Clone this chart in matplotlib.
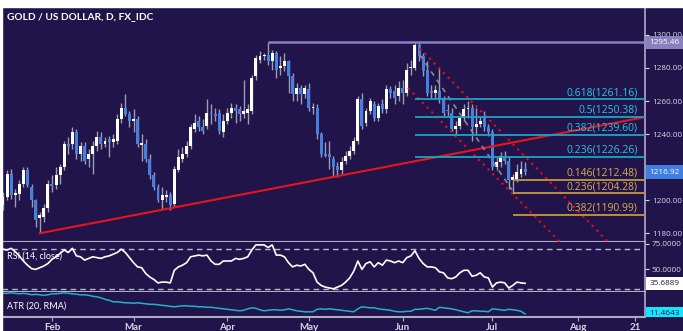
import numpy as np
import pandas as pd
import matplotlib
matplotlib.use('Agg')
import matplotlib.pyplot as plt
from matplotlib.patches import Rectangle
from matplotlib.transforms import Bbox, TransformedBbox, blended_transform_factory

# XAU/USD daily bars, 16 Jan - 13 Jul 2017
opens = [1197, 1202, 1216, 1203, 1204, 1210, 1218, 1208, 1200, 1189,
         1190, 1195, 1210, 1209, 1215, 1220, 1234, 1234, 1241, 1228,
         1233, 1225, 1228, 1233, 1238, 1234, 1237, 1235, 1236, 1249,
         1256, 1252, 1248, 1249, 1233.5, 1234, 1225, 1215, 1208, 1200,
         1202, 1203, 1198, 1218, 1225, 1228, 1233, 1243, 1248, 1244,
         1245, 1253, 1252, 1253, 1241, 1248, 1253, 1256, 1255, 1252,
         1253, 1254, 1275, 1285, 1287, 1288, 1284, 1289, 1280, 1281,
         1284, 1275, 1264, 1268, 1264, 1267, 1256, 1256, 1240, 1228,
         1228, 1225, 1221, 1218, 1224, 1227, 1230, 1236, 1261, 1247,
         1254, 1258, 1250, 1258, 1255, 1267, 1266, 1263, 1268, 1265,
         1280, 1280, 1294, 1287, 1279, 1266, 1265, 1266, 1261, 1254.5,
         1253, 1243, 1245, 1250, 1255, 1256, 1244, 1246, 1250, 1244,
         1241, 1220, 1223, 1227, 1224, 1212, 1213, 1216, 1219]
highs = [1205, 1218, 1219, 1207, 1212, 1220, 1220, 1210, 1201, 1193,
         1198, 1212, 1215, 1220, 1222, 1236, 1238, 1244, 1243, 1235,
         1235, 1231, 1236, 1242, 1241, 1238, 1239, 1240, 1252, 1259,
         1264, 1254, 1255, 1251, 1240, 1237, 1228, 1217, 1210, 1208,
         1206, 1205, 1221, 1231, 1232, 1236, 1246, 1252, 1251, 1249,
         1261, 1258, 1256, 1255, 1252, 1256, 1259, 1258, 1257, 1273,
         1258, 1276, 1288, 1290, 1289, 1295.46, 1291, 1290, 1287, 1289,
         1285, 1277, 1271, 1270, 1270, 1271, 1259, 1258, 1241, 1235,
         1236, 1227, 1223, 1226, 1230, 1233, 1238, 1263, 1265, 1256,
         1262, 1260, 1259, 1261, 1270, 1269, 1270, 1272, 1273, 1283,
         1285, 1296, 1296, 1289, 1284, 1270, 1270, 1280, 1263, 1258,
         1256, 1248, 1250, 1258, 1260, 1258, 1256, 1251, 1254, 1246,
         1243, 1226, 1229, 1230, 1226, 1216, 1222, 1224, 1223]
lows = [1194, 1200, 1201, 1196, 1200, 1208, 1208, 1196, 1184, 1180,
        1187, 1193, 1205, 1207, 1210, 1218, 1228, 1231, 1225, 1224,
        1222, 1220, 1216, 1230, 1231, 1232, 1226, 1232, 1234, 1247,
        1251, 1244, 1241, 1232, 1224, 1223, 1213, 1206, 1199, 1194,
        1199, 1194, 1196, 1217, 1223, 1226, 1231, 1241, 1242, 1240,
        1243, 1246, 1248, 1240, 1238, 1246, 1250, 1247, 1248, 1250,
        1246, 1252, 1273, 1283, 1285, 1282, 1279, 1274, 1276, 1278,
        1265, 1260, 1260, 1258, 1262, 1254, 1252, 1237, 1226, 1226,
        1219, 1214, 1214, 1216, 1222, 1225, 1228, 1234, 1243, 1245,
        1252, 1248, 1248, 1253, 1253, 1262, 1258, 1260, 1258, 1263,
        1276, 1279, 1284, 1275, 1263, 1262, 1262, 1259, 1251, 1251,
        1242, 1240, 1243, 1248, 1250, 1236, 1240, 1244, 1242, 1239,
        1218, 1218, 1220, 1222, 1207, 1204, 1211, 1214, 1215]
closes = [1202, 1216, 1203, 1204.5, 1210, 1218, 1209, 1200, 1188, 1191,
          1195, 1210, 1208.5, 1215, 1220, 1234, 1233, 1241, 1228, 1233,
          1224, 1228, 1233, 1238, 1234, 1236, 1235, 1237, 1249, 1256,
          1252, 1248, 1249, 1234, 1234.5, 1225, 1215, 1208, 1200, 1203,
          1203, 1197, 1219, 1226, 1228, 1233, 1244, 1247, 1244, 1242,
          1253, 1252, 1251, 1242, 1248, 1253, 1256, 1254, 1252, 1254,
          1255, 1274, 1286, 1287, 1287.5, 1284, 1289, 1279, 1281, 1284,
          1275, 1264, 1268, 1264, 1268, 1256, 1256.5, 1240, 1228, 1227,
          1226, 1220, 1218, 1223, 1227, 1230, 1236, 1261, 1245, 1254,
          1260, 1250, 1257, 1255, 1267, 1265, 1262, 1268, 1265, 1279,
          1280.5, 1294, 1287, 1278, 1265, 1265, 1266.5, 1261, 1253, 1254,
          1243, 1245, 1250, 1255, 1256, 1244, 1246, 1248, 1244, 1241,
          1220, 1223, 1227, 1224, 1212, 1214, 1217, 1219, 1216.92]

rsi = [69.8, 69.0, 70.7, 67.3, 63.1, 58.0, 53.8, 50.4, 49.6, 51.3,
       53.0, 55.5, 59.7, 62.2, 65.6, 69.0, 66.5, 70.7, 63.1, 62.2,
       58.9, 60.6, 62.2, 61.4, 60.6, 62.2, 63.1, 64.8, 66.5, 69.8,
       66.5, 61.4, 56.3, 52.1, 51.3, 45.4, 42.0, 39.5, 36.1, 36.9,
       36.9, 36.1, 48.7, 52.1, 53.8, 56.3, 62.2, 63.1, 63.9, 63.1,
       63.9, 58.0, 54.7, 54.7, 58.0, 58.0, 58.0, 60.6, 59.7, 60.6,
       62.2, 69.0, 74.1, 74.1, 74.1, 71.5, 74.1, 63.9, 63.9, 62.2,
       56.3, 52.1, 53.8, 53.0, 54.7, 49.6, 46.2, 36.9, 33.6, 31.9,
       31.0, 30.2, 31.9, 33.6, 36.9, 41.1, 47.9, 58.0, 49.6, 55.5,
       57.2, 52.1, 56.3, 53.8, 58.9, 58.0, 56.3, 58.0, 56.3, 61.4,
       63.1, 68.2, 60.6, 55.5, 52.1, 52.1, 51.3, 47.1, 46.2, 41.1,
       40.3, 42.0, 46.2, 48.7, 48.7, 42.8, 43.7, 46.2, 42.0, 41.1,
       31.9, 36.1, 36.9, 36.1, 31.0, 33.6, 36.9, 36.1, 35.6889]

atr = [15.6, 15.6, 15.7, 15.6, 15.5, 15.6, 15.5, 15.3, 15.4, 15.3,
       15.2, 15.3, 15.5, 15.5, 15.6, 15.7, 15.6, 15.5, 15.4, 15.3,
       15.3, 15.2, 15.0, 14.9, 14.7, 14.4, 14.2, 13.9, 13.9, 13.8,
       13.7, 13.7, 13.6, 13.7, 13.6, 13.5, 13.4, 13.4, 13.3, 13.2,
       13.1, 13.0, 12.9, 13.0, 13.1, 13.1, 13.0, 13.0, 12.9, 12.9,
       12.8, 12.8, 12.7, 12.6, 12.5, 12.4, 12.3, 12.2, 12.1, 12.2,
       12.5, 12.7, 12.6, 12.3, 12.1, 12.2, 12.3, 12.3, 12.2, 12.3,
       12.5, 12.3, 12.1, 12.0, 11.9, 11.9, 11.9, 12.4, 12.5, 12.4,
       12.5, 12.4, 12.3, 12.2, 12.1, 12.0, 11.9, 12.5, 12.9, 12.8,
       12.7, 12.7, 12.5, 12.4, 12.3, 12.2, 12.0, 11.9, 11.9, 12.0,
       12.0, 12.4, 12.4, 12.5, 12.6, 12.4, 12.2, 12.8, 12.7, 12.6,
       12.5, 12.3, 12.1, 11.9, 11.7, 12.1, 12.1, 12.0, 12.0, 11.9,
       12.5, 12.4, 12.3, 12.2, 12.4, 12.3, 12.2, 12.0, 11.4643]

# drawn studies: fibonacci levels and trend lines (bar index, price)
fib_up_levels = [1261.16, 1250.38, 1239.60, 1226.26]
fib_up_labels = ['0.618(1261.16)', '0.5(1250.38)', '0.382(1239.60)', '0.236(1226.26)']
fib_dn_levels = [1212.48, 1204.28, 1190.99]
fib_dn_labels = ['0.146(1212.48)', '0.236(1204.28)', '0.382(1190.99)']
fib_up_start = 101
fib_dn_start = 125
support_x = [9, 157.4]
support_y = [1180.0, 1250.3]
chan_upper_x = [102.2, 148.3]
chan_upper_y = [1291.9, 1174.9]
chan_lower_x = [99.3, 136.5]
chan_lower_y = [1267.9, 1174.9]
mid_x = [102.2, 124.8]
mid_y = [1287.9, 1206.2]
high_start = 65
high_level = 1295.46

BG = '#20144a'
SEP = '#aeaac8'
TXT = '#d8d8e6'
BLUE = '#4580e0'
WICK = '#9c9cb4'
CYAN_L = '#1ea3c2'
CYAN_T = '#2ec4e4'
GOLD_L = '#c49a3c'
GOLD_T = '#d9ad4c'
SCALE_FS = 5.9

W, H = 683, 331
fig = plt.figure(figsize=(W / 100, H / 100), dpi=100, facecolor=BG)
fig.patches.append(Rectangle((0, 1 - 7 / H), 1, 7 / H, transform=fig.transFigure,
                             color='white', zorder=0))
fig.patches.append(Rectangle((0, 0), 2 / W, 1, transform=fig.transFigure,
                             color='white', zorder=0))


def rect(x0, y0, x1, y1):
    return [x0 / W, 1 - y1 / H, (x1 - x0) / W, (y1 - y0) / H]


ax = fig.add_axes(rect(2, 7, 645, 241.7))
ax_rsi = fig.add_axes(rect(2, 241.7, 645, 292), sharex=ax)
ax_atr = fig.add_axes(rect(2, 292, 645, 317), sharex=ax)

for a in (ax, ax_rsi, ax_atr):
    a.set_facecolor(BG)
    a.spines['top'].set_visible(False)
    a.spines['left'].set_visible(False)
    a.spines['right'].set_color(SEP)
    a.spines['right'].set_linewidth(1.2)
    a.spines['bottom'].set_color(SEP)
    a.spines['bottom'].set_linewidth(1.5)
    a.yaxis.tick_right()
    a.tick_params(axis='y', direction='out', length=3, width=0.8, color=TXT,
                  labelcolor=TXT, labelsize=SCALE_FS, pad=2)

idx = np.arange(len(closes))
o = np.array(opens)
c = np.array(closes)
up = c >= o
lo = np.minimum(o, c)
hgt = np.maximum(np.abs(c - o), 0.6)

ax.vlines(idx, lows, highs, color=WICK, lw=1, zorder=2)
ax.bar(idx[up], hgt[up], bottom=lo[up], width=0.72, color='white', lw=0, zorder=3)
ax.bar(idx[~up], hgt[~up], bottom=lo[~up], width=0.72, color=BLUE, lw=0, zorder=3)

ax.set_xlim(-0.25, 157.4)
ax.set_ylim(1174.9, 1316.9)
ax.set_yticks(np.arange(1180, 1301, 20))
ax.set_yticklabels(['%.2f' % v for v in np.arange(1180, 1301, 20)], family='Open Sans')
ax.tick_params(axis='x', bottom=False, labelbottom=False)

# studies
ax.plot(support_x, support_y, color='#e8141c', lw=1.5, zorder=4)
ax.plot(chan_upper_x, chan_upper_y, color='#d8101e', lw=1.6, ls=(0, (1, 2)), zorder=4)
ax.plot(chan_lower_x, chan_lower_y, color='#d8101e', lw=1.6, ls=(0, (1, 2)), zorder=4)
ax.plot(mid_x, mid_y, color='#8a8a96', lw=1.2, ls=(0, (3, 3)), zorder=4)
ax.hlines(high_level, high_start, 157.4, color='#8a80c0', lw=1.8, zorder=4)

lab_x = 155.6
for lv, lb in zip(fib_up_levels, fib_up_labels):
    ax.hlines(lv, fib_up_start, 157.4, color=CYAN_L, lw=1.3, zorder=4)
    ax.annotate(lb, (lab_x, lv), xytext=(0, 0.8), textcoords='offset points',
                ha='right', va='bottom', color=CYAN_T, fontsize=7.5,
                family='Open Sans', zorder=5)
for lv, lb in zip(fib_dn_levels, fib_dn_labels):
    ax.hlines(lv, fib_dn_start, 157.4, color=GOLD_L, lw=1.3, zorder=4)
    ax.annotate(lb, (lab_x, lv), xytext=(0, 0.8), textcoords='offset points',
                ha='right', va='bottom', color=GOLD_T, fontsize=7.5,
                family='Open Sans', zorder=5)

ax.text(5 / 643, 1 - 10 / 234.7, 'GOLD / US DOLLAR, D, FX_IDC', transform=ax.transAxes,
        ha='left', va='center', color='white', fontsize=7.3, fontweight='bold',
        family='Lato')

# RSI
ax_rsi.plot(idx, rsi, color='white', lw=1.2, zorder=3)
ax_rsi.axhline(70, color='#b8b8c8', lw=1, ls=(0, (4, 3)))
ax_rsi.axhline(30, color='#b8b8c8', lw=1, ls=(0, (4, 3)))
ax_rsi.set_ylim(27, 77.3)
ax_rsi.set_yticks([50, 75])
ax_rsi.set_yticklabels(['50.0000', '75.0000'], family='Open Sans')
ax_rsi.tick_params(axis='x', bottom=False, labelbottom=False)
ax_rsi.text(5 / 643, 0.72, 'RSI (14, close)', transform=ax_rsi.transAxes, ha='left',
            va='center', color='white', fontsize=6.5, family='Lato', zorder=2)

# ATR
ax_atr.plot(idx, atr, color='#1fb2c8', lw=1.1, zorder=3)
ax_atr.set_ylim(10.86, 15.86)
ax_atr.set_yticks([])
ax_atr.text(5 / 643, 0.42, 'ATR (20, RMA)', transform=ax_atr.transAxes, ha='left',
            va='center', color='white', fontsize=6.5, family='Lato')

days = pd.bdate_range('2017-01-16', '2017-08-31')
tick_pos, tick_lab = [], []
for i in range(1, len(days)):
    if days[i].month != days[i - 1].month:
        tick_pos.append(i)
        tick_lab.append(days[i].strftime('%b'))
    elif days[i].month == 8 and days[i].day == 21:
        tick_pos.append(i)
        tick_lab.append('21')
ax_atr.set_xticks(tick_pos)
ax_atr.set_xticklabels(tick_lab, family='Lato', fontweight='bold')
ax_atr.tick_params(axis='x', direction='out', length=3, width=0.8, color=SEP,
                   labelcolor=TXT, labelsize=7, pad=1.5)


# last-value labels on the price scale
def value_label(a, y, text, fc, tc, clip=None):
    tr = blended_transform_factory(a.transAxes, a.transData)
    t = a.text(1.007, y, text, transform=tr, ha='left', va='center', fontsize=SCALE_FS,
               family='Open Sans', color=tc, zorder=10, clip_on=False,
               bbox=dict(boxstyle='square,pad=0.4', fc=fc, ec='none'))
    if clip is not None:
        t.set_clip_box(clip)
        t.set_clip_on(True)
    return t


value_label(ax, high_level, '1295.46', '#8a80c0', 'white')
value_label(ax, closes[-1], '%.2f' % closes[-1], '#3f7fe0', 'white')
value_label(ax_rsi, rsi[-1], '%.4f' % rsi[-1], 'white', '#20144a')
atr_clip = TransformedBbox(Bbox([[640 / W, 1 - 317 / H], [1, 1 - 292 / H]]), fig.transFigure)
value_label(ax_atr, atr[-1], '%.4f' % atr[-1], '#10e8ff', '#20144a', clip=atr_clip)

fig.savefig('out.png', dpi=100, facecolor=BG)
